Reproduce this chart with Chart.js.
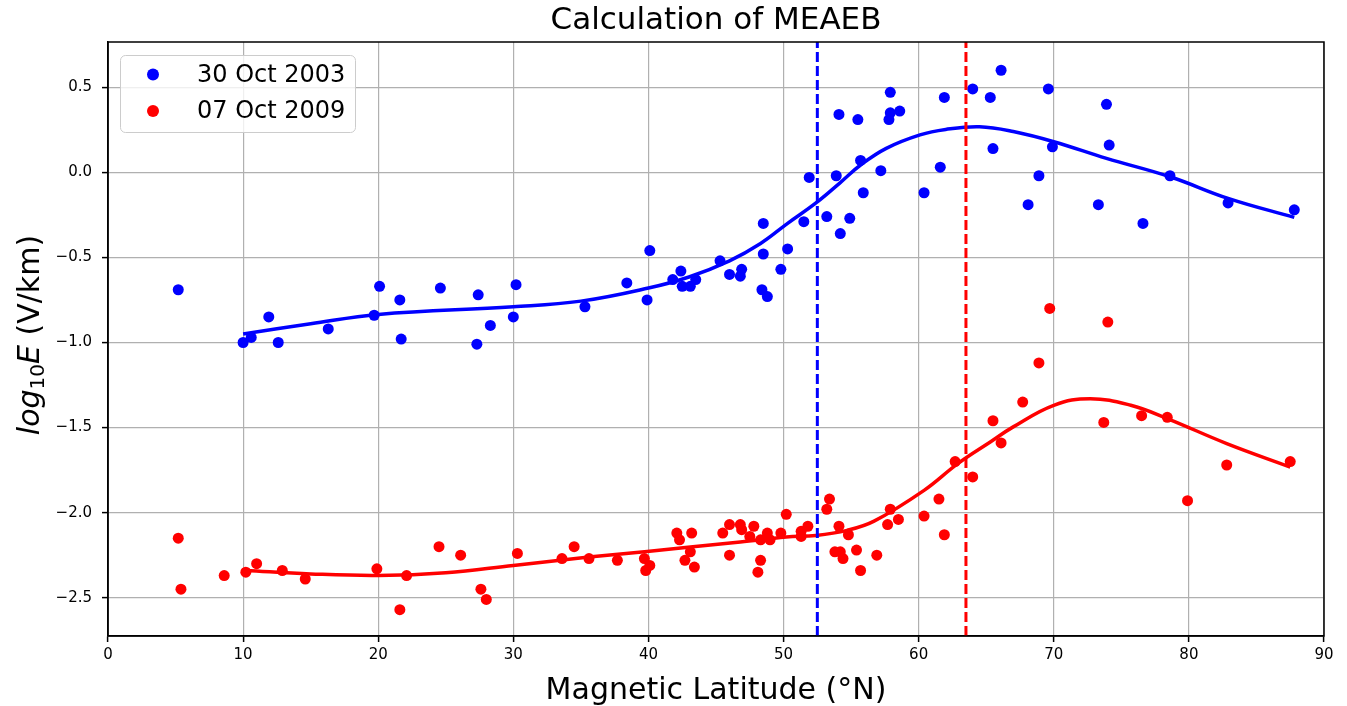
<!DOCTYPE html>
<html>
<head>
<meta charset="utf-8">
<title>Calculation of MEAEB</title>
<script src="https://cdn.jsdelivr.net/npm/chart.js@4.4.1/dist/chart.umd.min.js"></script>
<style>
    html, body { margin: 0; padding: 0; background: #ffffff; }
    #meaeb-chart { display: block; }
</style>
</head>
<body>
<canvas id="meaeb-chart" width="1347" height="706"></canvas>
<script>
// --- data ---
const seriesNames = ['30 Oct 2003', '07 Oct 2009'];
const seriesColors = ['#0000ff', '#ff0000'];

// 30 Oct 2003 (blue dots)
const blueLat = [5.2, 10.0, 10.6, 11.9, 12.6, 16.3, 19.7, 20.1, 21.6, 21.7, 24.6, 27.4, 27.3, 28.3, 30.2, 30.0,
    35.3, 38.4, 39.9, 40.1, 41.8, 42.4, 42.5, 43.1, 43.5, 45.3, 46.0, 46.8, 46.9, 48.5, 48.5, 48.4, 48.8,
    49.8, 50.3, 51.5, 51.9, 53.2, 53.9, 54.1, 54.2, 54.9, 55.5, 55.7, 55.9, 57.2, 57.8, 57.9, 57.9, 58.6,
    60.4, 61.6, 61.9, 64.0, 65.3, 66.1, 65.5, 69.6, 69.9, 68.9, 68.1, 73.9, 74.1, 73.3, 76.6, 78.6, 82.9, 87.8];
const blueVal = [-0.69, -1.00, -0.97, -0.85, -1.00, -0.92, -0.84, -0.67, -0.75, -0.98, -0.68, -0.72, -1.01, -0.90, -0.66, -0.85,
    -0.79, -0.65, -0.75, -0.46, -0.63, -0.58, -0.67, -0.67, -0.63, -0.52, -0.60, -0.61, -0.57, -0.30, -0.48, -0.69, -0.73,
    -0.57, -0.45, -0.29, -0.03, -0.26, -0.02, 0.34, -0.36, -0.27, 0.31, 0.07, -0.12, 0.01, 0.31, 0.35, 0.47, 0.36,
    -0.12, 0.03, 0.44, 0.49, 0.44, 0.60, 0.14, 0.49, 0.15, -0.02, -0.19, 0.40, 0.16, -0.19, -0.30, -0.02, -0.18, -0.22];

// 07 Oct 2009 (red dots)
const redLat = [5.2, 5.4, 8.6, 10.2, 11.0, 12.9, 14.6, 19.9, 21.6, 22.1, 24.5, 26.1, 27.6, 28.0, 30.3,
    33.6, 34.5, 35.6, 37.7, 39.7, 39.8, 40.1, 42.1, 42.3, 43.2, 43.1, 42.7, 43.4, 45.5, 46.0, 46.0, 46.8, 46.9,
    47.8, 47.5, 48.3, 48.3, 48.1, 48.8, 49.0, 49.8, 50.2, 51.3, 51.3, 51.8, 53.2, 53.4, 53.8, 54.1, 54.2, 54.4,
    54.8, 55.4, 55.7, 56.9, 57.7, 57.9, 58.5, 60.4, 61.5, 61.9, 62.7, 64.0,
    65.5, 66.1, 67.7, 68.9, 69.7, 74.0, 73.7, 76.5, 78.4, 79.9, 82.8, 87.5];
const redVal = [-2.15, -2.45, -2.37, -2.35, -2.30, -2.34, -2.39, -2.33, -2.57, -2.37, -2.20, -2.25, -2.45, -2.51, -2.24,
    -2.27, -2.20, -2.27, -2.28, -2.27, -2.34, -2.31, -2.12, -2.16, -2.12, -2.23, -2.28, -2.32, -2.12, -2.07, -2.25, -2.07, -2.10,
    -2.08, -2.14, -2.16, -2.28, -2.35, -2.12, -2.16, -2.12, -2.01, -2.11, -2.14, -2.08, -1.98, -1.92, -2.23, -2.08, -2.23, -2.27,
    -2.13, -2.22, -2.34, -2.25, -2.07, -1.98, -2.04, -2.02, -1.92, -2.13, -1.70, -1.79,
    -1.46, -1.59, -1.35, -1.12, -0.80, -0.88, -1.47, -1.43, -1.44, -1.93, -1.72, -1.70];

// fitted curves
const blueFitLat = [10.0, 15.0, 20.0, 30.0, 35.0, 40.0, 43.0, 46.0, 48.3, 50.3, 52.4, 54.2, 55.7, 57.6,
    60.1, 62.0, 64.5, 67.0, 70.0, 73.9, 78.6, 82.9, 87.8];
const blueFitVal = [-0.95, -0.89, -0.835, -0.79, -0.757, -0.68, -0.615, -0.52, -0.418, -0.30, -0.18, -0.06, 0.043, 0.141,
    0.22, 0.252, 0.268, 0.24, 0.18, 0.082, -0.026, -0.153, -0.265];
const redFitLat = [10.2, 15.0, 20.0, 25.0, 30.0, 35.6, 39.9, 43.1, 46.8, 50.2, 52.4, 54.7, 56.7,
    60.4, 62.9, 65.3, 67.0, 70.0, 72.7, 75.7, 78.4, 82.8, 87.5];
const redFitVal = [-2.34, -2.36, -2.369, -2.353, -2.31, -2.261, -2.228, -2.202, -2.173, -2.143, -2.134, -2.104, -2.05,
    -1.869, -1.712, -1.585, -1.496, -1.369, -1.33, -1.369, -1.447, -1.594, -1.732];

// MEAEB boundaries (vertical dashed lines)
const boundaryLat = [52.5, 63.5];

// axes
const xTicks = [0, 10, 20, 30, 40, 50, 60, 70, 80, 90];
const yTicks = [-2.5, -2.0, -1.5, -1.0, -0.5, 0.0, 0.5];
const xRange = [0, 90];
const yRange = [-2.725, 0.766];

const toPoints = (xs, ys) => xs.map((x, i) => ({ x: x, y: ys[i] }));
const vLine = (x) => [{ x: x, y: yRange[0] }, { x: x, y: yRange[1] }];

const FONT = '"DejaVu Sans", sans-serif';

// frame, title, axis labels and legend (matplotlib look)
const decorPlugin = {
    id: 'meaebDecor',
    afterDraw(chart) {
        const ctx = chart.ctx;
        const area = chart.chartArea;
        ctx.save();

        // box around the axes
        ctx.strokeStyle = '#000';
        ctx.lineWidth = 1.5;
        ctx.strokeRect(area.left, area.top, area.right - area.left, area.bottom - area.top);

        const cx = (area.left + area.right) / 2;
        const cy = (area.top + area.bottom) / 2;
        ctx.fillStyle = '#000';

        // title
        ctx.font = '31px ' + FONT;
        ctx.textAlign = 'center';
        ctx.textBaseline = 'middle';
        ctx.fillText('Calculation of MEAEB', cx, 21);

        // x label
        ctx.font = '30px ' + FONT;
        ctx.textBaseline = 'alphabetic';
        ctx.fillText('Magnetic Latitude (°N)', cx, 699);

        // y label: log_10 E (V/km)
        const parts = [
            { t: 'log', f: 'italic 30px ' + FONT, dy: 0 },
            { t: '10', f: '20px ' + FONT, dy: 5 },
            { t: 'E', f: 'italic 30px ' + FONT, dy: 0 },
            { t: ' (V/km)', f: '30px ' + FONT, dy: 0 }
        ];
        let total = 0;
        parts.forEach(p => { ctx.font = p.f; p.w = ctx.measureText(p.t).width; total += p.w; });
        ctx.translate(39, cy - 4);
        ctx.rotate(-Math.PI / 2);
        ctx.textAlign = 'left';
        let px = -total / 2;
        parts.forEach(p => {
            ctx.font = p.f;
            ctx.fillText(p.t, px, p.dy);
            px += p.w;
        });
        ctx.setTransform(1, 0, 0, 1, 0, 0);

        // legend
        const lx = 120.5, ly = 55.5, lw = 235, lh = 77;
        ctx.beginPath();
        ctx.roundRect(lx, ly, lw, lh, 5);
        ctx.fillStyle = 'rgba(255,255,255,0.8)';
        ctx.fill();
        ctx.strokeStyle = '#cccccc';
        ctx.lineWidth = 1;
        ctx.stroke();
        ctx.font = '24px ' + FONT;
        ctx.textAlign = 'left';
        ctx.textBaseline = 'middle';
        seriesNames.forEach((name, i) => {
            const yy = 74.5 + i * 36.5;
            ctx.beginPath();
            ctx.arc(153, yy, 6, 0, Math.PI * 2);
            ctx.fillStyle = seriesColors[i];
            ctx.fill();
            ctx.fillStyle = '#000';
            ctx.fillText(name, 197, yy + 1);
        });

        ctx.restore();
    }
};

const ctx = document.getElementById('meaeb-chart').getContext('2d');

new Chart(ctx, {
    type: 'scatter',
    data: {
        datasets: [
            {
                label: seriesNames[0],
                data: toPoints(blueLat, blueVal),
                backgroundColor: seriesColors[0],
                borderWidth: 0,
                pointRadius: 5.5,
                order: 2
            },
            {
                label: seriesNames[1],
                data: toPoints(redLat, redVal),
                backgroundColor: seriesColors[1],
                borderWidth: 0,
                pointRadius: 5.5,
                order: 2
            },
            {
                label: 'fit 2003',
                data: toPoints(blueFitLat, blueFitVal),
                showLine: true,
                borderColor: seriesColors[0],
                borderWidth: 3.5,
                pointRadius: 0,
                tension: 0.4,
                order: 1
            },
            {
                label: 'fit 2009',
                data: toPoints(redFitLat, redFitVal),
                showLine: true,
                borderColor: seriesColors[1],
                borderWidth: 3.5,
                pointRadius: 0,
                tension: 0.4,
                order: 1
            },
            {
                label: 'MEAEB 2003',
                data: vLine(boundaryLat[0]),
                showLine: true,
                borderColor: seriesColors[0],
                borderWidth: 3,
                borderDash: [10, 4],
                pointRadius: 0,
                order: 0
            },
            {
                label: 'MEAEB 2009',
                data: vLine(boundaryLat[1]),
                showLine: true,
                borderColor: seriesColors[1],
                borderWidth: 3,
                borderDash: [10, 4],
                pointRadius: 0,
                order: 0
            }
        ]
    },
    options: {
        responsive: false,
        animation: false,
        devicePixelRatio: 1,
        layout: { padding: { left: 0, right: 23, top: 42, bottom: 0 } },
        plugins: {
            legend: { display: false },
            title: { display: false },
            tooltip: { enabled: false }
        },
        scales: {
            x: {
                type: 'linear',
                min: xRange[0],
                max: xRange[1],
                afterBuildTicks: (scale) => { scale.ticks = xTicks.map(v => ({ value: v })); },
                afterFit: (scale) => { scale.height = 70; },
                grid: { color: '#b0b0b0', lineWidth: 1.2, tickColor: '#000', tickLength: 6, tickWidth: 1.5 },
                border: { display: true, color: '#000', width: 1.5 },
                ticks: { color: '#000', font: { family: FONT, size: 15 }, padding: 4, maxRotation: 0 }
            },
            y: {
                type: 'linear',
                min: yRange[0],
                max: yRange[1],
                afterBuildTicks: (scale) => { scale.ticks = yTicks.map(v => ({ value: v })); },
                afterFit: (scale) => { scale.width = 108; },
                grid: { color: '#b0b0b0', lineWidth: 1.2, tickColor: '#000', tickLength: 6, tickWidth: 1.5 },
                border: { display: true, color: '#000', width: 1.5 },
                ticks: {
                    color: '#000',
                    font: { family: FONT, size: 15 },
                    padding: 10,
                    callback: (v) => (v < 0 ? '\u2212' : '') + Math.abs(v).toFixed(1)
                }
            }
        }
    },
    plugins: [decorPlugin]
});
</script>
</body>
</html>
